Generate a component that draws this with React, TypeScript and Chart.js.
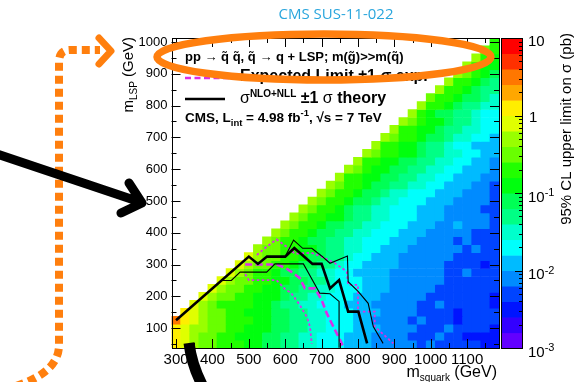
import { useEffect, useRef } from "react";
import { Chart, registerables } from "chart.js";

Chart.register(...registerables);

// ---------- DATA ----------
// squark mass bin centres (GeV)
const MSQUARK = [300, 325, 350, 375, 400, 425, 450, 475, 500, 525, 550, 575, 600, 625, 650, 675, 700, 725,
  750, 775, 800, 825, 850, 875, 900, 925, 950, 975, 1000, 1025, 1050, 1075, 1100, 1125, 1150, 1175];
// LSP mass bin centres (GeV), bottom to top
const MLSP = [50, 75, 100, 125, 150, 175, 200, 225, 250, 275, 300, 325, 350, 375, 400, 425, 450, 475, 500,
  525, 550, 575, 600, 625, 650, 675, 700, 725, 750, 775, 800, 825, 850, 875, 900, 925, 950, 975, 1000];
const BIN_HALF = 12.5;

// colour-scale contour edges (pb) and ROOT "pretty" palette
const CONTOUR_EDGES = [0.001, 0.00158, 0.00251, 0.00398, 0.00631, 0.01, 0.0158, 0.0251, 0.0398, 0.0631, 0.1,
  0.158, 0.251, 0.398, 0.631, 1, 1.58, 2.51, 3.98, 6.31, 10];
const PALETTE = ["#6300ff", "#3300ff", "#0014ff", "#0044ff", "#008bff", "#00bbff", "#00fffc", "#00ffcc",
  "#00ff85", "#00ff55", "#00ff0e", "#22ff00", "#69ff00", "#99ff00", "#e0ff00", "#ffee00", "#ffa700",
  "#ff7700", "#ff3000", "#ff0000"];
const LEVEL_CODES = "0123456789abcdefghij";

// Upper limit per cell, as colour-level codes.
// One string per m_LSP row (bottom row first); each row ends at the last squark bin.
const LIMIT_ROWS = [
  "fedcc bbbaa 99887 76665 55444 44343 33332 2",
  "fedcc bbaaa 99887 76665 55444 43334 33222 2",
  "feddc cbbaa a9988 77666 55544 44333 43333 2",
  "hfedc cbbba a9988 77666 55444 43433 32333 3",
  "fedcc bbaaa 99887 76665 55444 43333 23333",
  "edcbb bbaa9 88776 66555 44444 33433 3332",
  "edccb baaa9 88776 66555 44444 33333 332",
  "edccb baa99 88776 66555 44444 33333 33",
  "edccb baa99 88766 65554 44444 33333 3",
  "edcbb a9988 77665 55544 44443 34333",
  "edccb ba998 87665 55544 44433 3323",
  "edccb ba998 87665 55444 44433 333",
  "dccbb aa988 77665 55444 44434 33",
  "dcbba 99887 76665 55444 43433 3",
  "dcbba 99887 76665 55444 44333",
  "dcbba 99887 76665 55445 4443",
  "dcbba a9887 76665 55444 443",
  "dcbba 98877 66655 54444 33",
  "dcbba 99877 66655 54444 3",
  "dcbba 99877 66655 54443",
  "dcbba 99887 76655 5443",
  "dbbaa 99887 76655 544",
  "dcbaa 99887 76655 54",
  "dbbaa 99887 76655 4",
  "dcbba a9887 76655",
  "dbbaa 98876 6555",
  "dcbba 99877 665",
  "dbbaa 98877 66",
  "dcbaa 98876 6",
  "dba99 88766",
  "dbba9 8877",
  "cbba9 987",
  "dbba9 88",
  "dbba98",
  "dcba9",
  "dbaa",
  "dba",
  "cb",
  "b",
];

// exclusion contours [m_squark, m_LSP]
const OBSERVED = [[300, 125], [500, 325], [525, 302], [550, 325], [600, 325], [625, 352], [675, 302], [700, 302],
  [723, 225], [748, 251], [773, 152], [801, 152], [825, 52]];
const THEORY_UP = [[600, 325], [623, 377], [648, 351], [673, 351], [700, 327], [723, 304], [771, 327], [773, 246],
  [801, 215], [828, 178], [842, 105], [869, 52]];
const THEORY_DOWN = [[425, 250], [452, 250], [476, 276], [549, 276], [572, 302], [650, 302], [695, 210],
  [723, 208], [748, 184], [748, 38]];
const EXPECTED = [[490, 300], [576, 300], [600, 290], [622, 273], [640, 257], [654, 225], [682, 225], [700, 189],
  [714, 147], [732, 105], [752, 60], [758, 45]];
const EXP_UP = [[522, 330], [549, 356], [576, 379], [604, 356], [627, 334], [672, 337], [700, 325], [737, 304],
  [769, 278], [773, 236], [800, 236], [800, 152], [846, 152], [846, 105], [897, 52]];
const EXP_DOWN = [[490, 270], [500, 251], [576, 251], [601, 221], [615, 212], [640, 173], [659, 136], [668, 105],
  [673, 50]];

const X_TICKS = [300, 400, 500, 600, 700, 800, 900, 1000, 1100];
const Y_TICKS = [100, 200, 300, 400, 500, 600, 700, 800, 900, 1000];
const CB_DECADES = [-3, -2, -1, 0, 1];

// ---------- HELPERS ----------
const FONT = "'Liberation Sans', Arial, Helvetica, sans-serif";
const MAGENTA = "#db2fe6";
const ORANGE = "#ff7f0e";

function colorFor(v: number): string {
  for (let k = 0; k < PALETTE.length; k++) {
    if (v < CONTOUR_EDGES[k + 1]) return PALETTE[k];
  }
  return PALETTE[PALETTE.length - 1];
}

function buildCells() {
  const cells: { x: number; y: number[]; v: number }[] = [];
  LIMIT_ROWS.forEach((row, j) => {
    const codes = row.replace(/ /g, "");
    const start = MSQUARK.length - codes.length;
    for (let k = 0; k < codes.length; k++) {
      const lvl = LEVEL_CODES.indexOf(codes[k]);
      const v = Math.sqrt(CONTOUR_EDGES[lvl] * CONTOUR_EDGES[lvl + 1]);
      cells.push({ x: MSQUARK[start + k], y: [MLSP[j] - BIN_HALF, MLSP[j] + BIN_HALF], v });
    }
  });
  return cells;
}

function lineDs(pts: number[][], color: string, width: number, dash: number[]) {
  return {
    type: "line" as const,
    data: pts.map(([x, y]) => ({ x, y })),
    borderColor: color,
    borderWidth: width,
    borderDash: dash,
    pointRadius: 0,
    fill: false,
    tension: 0,
    order: 0,
    xAxisID: "x",
    yAxisID: "y",
  };
}

function textW(ctx: CanvasRenderingContext2D, font: string, t: string) {
  ctx.font = font;
  return ctx.measureText(t).width;
}

// draw a run of [text, font, dy] pieces from x, baseline y; returns end x
function runs(ctx: CanvasRenderingContext2D, x: number, y: number, parts: [string, string, number][]) {
  let cx = x;
  for (const [t, f, dy] of parts) {
    ctx.font = f;
    ctx.fillText(t, cx, y + dy);
    cx += ctx.measureText(t).width;
  }
  return cx;
}
function runsWidth(ctx: CanvasRenderingContext2D, parts: [string, string, number][]) {
  let w = 0;
  for (const [t, f] of parts) w += textW(ctx, f, t);
  return w;
}

const crisp = (v: number) => Math.round(v) + 0.5;

const decorPlugin = {
  id: "decor",
  beforeDraw(chart: any) {
    const { ctx, width, height } = chart;
    ctx.save();
    ctx.fillStyle = "#fff";
    ctx.fillRect(0, 0, width, height);
    ctx.restore();
  },
  afterDraw(chart: any) {
    const { ctx, chartArea: a, scales } = chart;
    const xs = scales.x, ys = scales.y, cb = scales.cb;
    ctx.save();
    ctx.textBaseline = "alphabetic";
    ctx.fillStyle = "#000";
    ctx.strokeStyle = "#000";
    ctx.lineWidth = 1;
    ctx.setLineDash([]);

    // frame
    ctx.strokeRect(crisp(a.left), crisp(a.top), Math.round(a.right) - Math.round(a.left), Math.round(a.bottom) - Math.round(a.top));

    // ticks (inside the frame, on all four sides)
    ctx.beginPath();
    for (let v = 300; v <= 1150; v += 50) {
      const p = crisp(xs.getPixelForValue(v));
      const len = v % 100 === 0 ? 9 : 5;
      ctx.moveTo(p, a.bottom); ctx.lineTo(p, a.bottom - len);
      ctx.moveTo(p, a.top); ctx.lineTo(p, a.top + len);
    }
    for (let v = 50; v <= 1000; v += 50) {
      const p = crisp(ys.getPixelForValue(v));
      const len = v % 100 === 0 ? 9 : 5;
      ctx.moveTo(a.left, p); ctx.lineTo(a.left + len, p);
      ctx.moveTo(a.right, p); ctx.lineTo(a.right - len, p);
    }
    ctx.stroke();

    // ---- colour bar ----
    const cbL = cb.left + 2, cbR = cb.left + 24;
    for (let k = 0; k < PALETTE.length; k++) {
      const y0 = cb.getPixelForValue(CONTOUR_EDGES[k]);
      const y1 = cb.getPixelForValue(CONTOUR_EDGES[k + 1]);
      ctx.fillStyle = PALETTE[k];
      ctx.fillRect(cbL, y1, cbR - cbL, y0 - y1 + 0.5);
    }
    ctx.fillStyle = "#000";
    ctx.strokeRect(crisp(cbL), crisp(cb.top), Math.round(cbR - cbL) - 1, Math.round(cb.bottom - cb.top));
    ctx.beginPath();
    CB_DECADES.forEach((d) => {
      const p = crisp(cb.getPixelForValue(Math.pow(10, d)));
      ctx.moveTo(cbR, p); ctx.lineTo(cbR - 8, p);
      if (d < 1) {
        for (let m = 2; m <= 9; m++) {
          const q = crisp(cb.getPixelForValue(m * Math.pow(10, d)));
          ctx.moveTo(cbR, q); ctx.lineTo(cbR - 4, q);
        }
      }
    });
    ctx.stroke();
    const lf = `15px ${FONT}`, sf = `11px ${FONT}`;
    CB_DECADES.forEach((d) => {
      const p = cb.getPixelForValue(Math.pow(10, d));
      if (d === 1) runs(ctx, cbR + 5, p + 7.5, [["10", lf, 0]]);
      else if (d === 0) runs(ctx, cbR + 6, p + 6.5, [["1", lf, 0]]);
      else runs(ctx, cbR + 5, p + 8.5, [["10", lf, 0], [String(d), sf, -5.5]]);
    });
    // colour bar title
    ctx.save();
    ctx.translate(571, 33);
    ctx.rotate(-Math.PI / 2);
    const zt = "95% CL upper limit on σ (pb)";
    const zw = textW(ctx, `15px ${FONT}`, zt);
    ctx.fillText(zt, -zw, 0);
    ctx.restore();

    // ---- axis titles ----
    const xt: [string, string, number][] = [["m", `16px ${FONT}`, 0], ["squark", `10px ${FONT}`, 4], [" (GeV)", `16px ${FONT}`, 0]];
    runs(ctx, 497 - runsWidth(ctx, xt), 376.5, xt);
    ctx.save();
    ctx.translate(133, 37);
    ctx.rotate(-Math.PI / 2);
    const yt: [string, string, number][] = [["m", `15px ${FONT}`, 0], ["LSP", `10px ${FONT}`, 3.5], [" (GeV)", `15px ${FONT}`, 0]];
    runs(ctx, -runsWidth(ctx, yt), 0, yt);
    ctx.restore();

    // ---- title ----
    ctx.fillStyle = "#2aa6dd";
    ctx.font = `15px 'Open Sans', ${FONT}`;
    ctx.textAlign = "center";
    ctx.fillText("CMS SUS-11-022", 336, 19);
    ctx.textAlign = "left";
    ctx.fillStyle = "#000";

    // ---- legend ----
    const b13 = `bold 13px ${FONT}`;
    runs(ctx, 185, 61, [["pp → q̃ q̃, q̃ → q + LSP; m(g̃)>>m(q̃)", b13, 0]]);
    ctx.save();
    ctx.strokeStyle = MAGENTA; ctx.lineWidth = 2.5; ctx.setLineDash([6, 3.5]);
    ctx.beginPath(); ctx.moveTo(185, 78); ctx.lineTo(229, 78); ctx.stroke();
    ctx.restore();
    runs(ctx, 240, 81, [["Expected Limit ±1 σ exp.", `bold 16px ${FONT}`, 0]]);
    ctx.lineWidth = 2.5;
    ctx.beginPath(); ctx.moveTo(185, 99); ctx.lineTo(225, 99); ctx.stroke();
    runs(ctx, 240, 103, [
      ["σ", `16px ${FONT}`, 0], ["NLO+NLL", `bold 10px ${FONT}`, -6], [" ±1 ", `bold 16px ${FONT}`, 0],
      ["σ", `16px ${FONT}`, 0], [" theory", `bold 16px ${FONT}`, 0],
    ]);
    const b135 = `bold 13.5px ${FONT}`;
    runs(ctx, 185, 122, [
      ["CMS, L", b135, 0], ["int", `bold 9.5px ${FONT}`, 4], [" = 4.98 fb", b135, 0], ["-1", `bold 9.5px ${FONT}`, -6],
      [", √s = 7 TeV", b135, 0],
    ]);

    // ---- annotations ----
    ctx.strokeStyle = ORANGE;
    ctx.lineWidth = 7.5;
    ctx.beginPath();
    ctx.ellipse(324, 57, 167, 23, 0, 0, Math.PI * 2);
    ctx.stroke();

    ctx.lineWidth = 8;
    ctx.setLineDash([8, 5]);
    ctx.lineCap = "butt";
    ctx.beginPath();
    ctx.moveTo(16, 386);
    ctx.quadraticCurveTo(59, 372, 59, 345);
    ctx.lineTo(59, 62);
    ctx.quadraticCurveTo(59, 50, 70, 50);
    ctx.lineTo(100, 50);
    ctx.stroke();
    ctx.setLineDash([]);
    ctx.lineWidth = 7;
    ctx.lineCap = "round";
    ctx.lineJoin = "round";
    ctx.beginPath();
    ctx.moveTo(99, 38); ctx.lineTo(111, 51); ctx.lineTo(99, 64);
    ctx.stroke();

    ctx.strokeStyle = "#000";
    ctx.lineWidth = 9;
    ctx.beginPath();
    ctx.moveTo(-6, 153); ctx.lineTo(140, 202);
    ctx.moveTo(129, 183); ctx.lineTo(142, 203); ctx.lineTo(121, 213);
    ctx.stroke();

    ctx.lineCap = "butt";
    ctx.lineWidth = 11;
    ctx.beginPath();
    ctx.moveTo(189, 343);
    ctx.quadraticCurveTo(192, 368, 206, 392);
    ctx.stroke();

    ctx.restore();
  },
};

export default function App() {
  const ref = useRef<HTMLCanvasElement>(null);
  useEffect(() => {
    document.body.style.margin = "0";
    Chart.defaults.font.family = FONT;
    const chart = new Chart(ref.current as HTMLCanvasElement, {
      type: "bar",
      data: {
        datasets: [
          lineDs(OBSERVED, "#000", 2.6, []),
          lineDs(THEORY_UP, "#000", 1.1, []),
          lineDs(THEORY_DOWN, "#000", 1.1, []),
          lineDs(EXPECTED, MAGENTA, 2.6, [7, 3.5]),
          lineDs(EXP_UP, MAGENTA, 1.8, [2.5, 2.5]),
          lineDs(EXP_DOWN, MAGENTA, 1.8, [2.5, 2.5]),
          {
            type: "bar" as const,
            data: buildCells() as any,
            backgroundColor: (c: any) => (c.raw ? colorFor(c.raw.v) : "#fff"),
            borderWidth: 0,
            barPercentage: 1,
            categoryPercentage: 1,
            order: 10,
            xAxisID: "x",
            yAxisID: "y",
          },
        ] as any,
      },
      options: {
        responsive: false,
        animation: false,
        events: [],
        layout: { padding: { top: 38, left: 0, right: 0, bottom: 0 } },
        plugins: { legend: { display: false }, tooltip: { enabled: false }, title: { display: false } },
        scales: {
          x: {
            type: "linear",
            min: 287.5,
            max: 1187.5,
            offset: false,
            grid: { display: false, drawTicks: false },
            border: { display: false },
            afterBuildTicks: (s: any) => { s.ticks = X_TICKS.map((value) => ({ value })); },
            afterFit: (s: any) => { s.height = 34; },
            ticks: {
              autoSkip: false, maxRotation: 0, minRotation: 0, padding: 3, color: "#000", font: { size: 15 },
              callback: (v: any) => String(v),
            },
          },
          y: {
            type: "linear",
            min: 37.5,
            max: 1012.5,
            grid: { display: false, drawTicks: false },
            border: { display: false },
            afterBuildTicks: (s: any) => { s.ticks = Y_TICKS.map((value) => ({ value })); },
            afterFit: (s: any) => { s.width = 171.5; },
            ticks: { autoSkip: false, padding: 4, color: "#000", font: { size: 13 }, callback: (v: any) => String(v) },
          },
          cb: {
            type: "logarithmic",
            position: "right",
            axis: "y",
            min: 0.001,
            max: 10,
            grid: { display: false },
            border: { display: false },
            ticks: { display: false },
            afterFit: (s: any) => { s.width = 76; },
          },
        } as any,
      },
      plugins: [decorPlugin],
    } as any);
    return () => chart.destroy();
  }, []);
  return (
    <div style={{ width: 575, height: 382, position: "relative", overflow: "hidden", background: "#fff" }}>
      <canvas ref={ref} width={575} height={382} style={{ display: "block" }} />
    </div>
  );
}
